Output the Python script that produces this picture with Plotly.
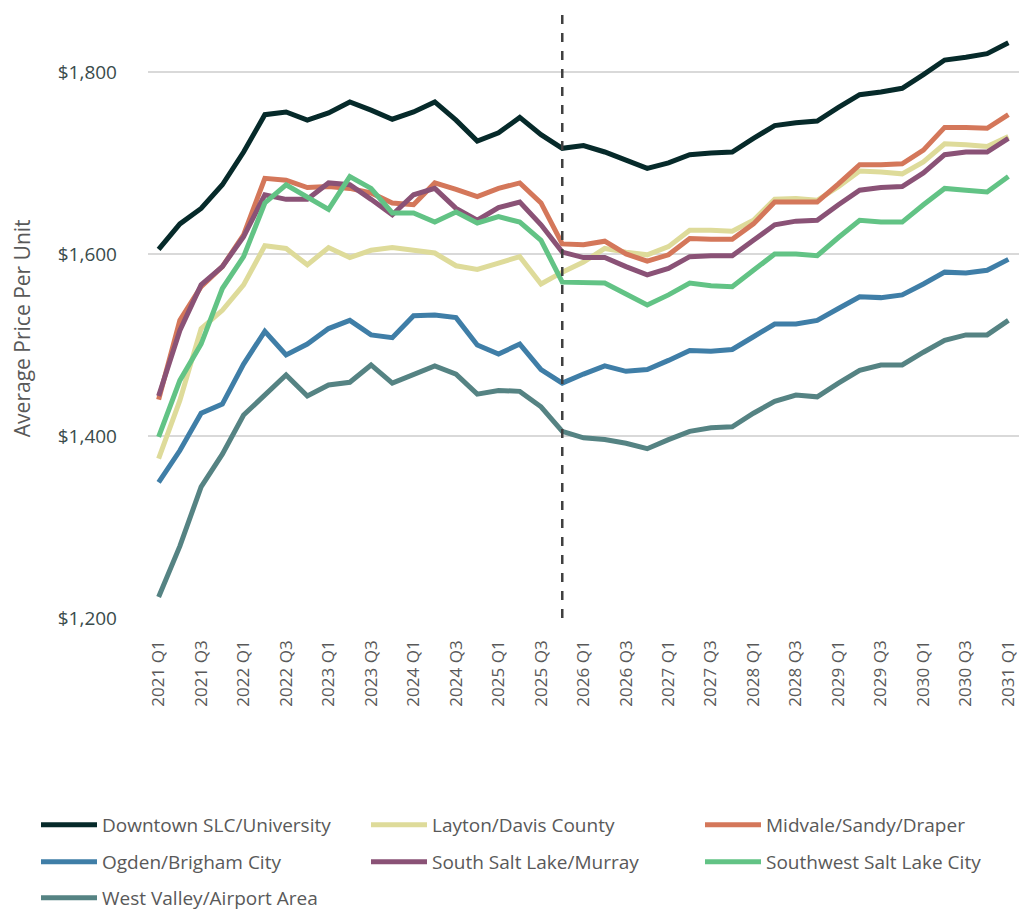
import plotly.graph_objects as go

quarters = [f"{y} Q{q}" for y in range(2021, 2031) for q in range(1, 5)] + ["2031 Q1"]

downtown = [1605, 1633, 1650, 1676, 1712, 1753, 1756, 1747, 1755, 1767, 1758, 1748, 1756, 1767,
            1747, 1724, 1733, 1750, 1731, 1716, 1719, 1712, 1703, 1694, 1700, 1709, 1711, 1712,
            1727, 1741, 1744, 1746, 1761, 1775, 1778, 1782, 1797, 1813, 1816, 1820, 1832]
layton = [1375, 1439, 1518, 1538, 1566, 1609, 1606, 1588, 1607, 1596, 1604, 1607, 1604, 1601,
          1587, 1583, 1590, 1597, 1567, 1580, 1591, 1606, 1602, 1599, 1608, 1626, 1626, 1625,
          1637, 1660, 1661, 1659, 1674, 1691, 1690, 1688, 1701, 1721, 1720, 1718, 1729]
midvale = [1440, 1527, 1564, 1586, 1621, 1683, 1681, 1673, 1674, 1672, 1667, 1656, 1654, 1678,
           1671, 1663, 1672, 1678, 1656, 1611, 1610, 1614, 1600, 1592, 1599, 1617, 1616, 1616,
           1633, 1657, 1657, 1657, 1677, 1698, 1698, 1699, 1714, 1739, 1739, 1738, 1753]
ogden = [1349, 1384, 1425, 1435, 1479, 1515, 1489, 1501, 1518, 1527, 1511, 1508, 1532, 1533,
         1530, 1500, 1490, 1501, 1473, 1458, 1468, 1477, 1471, 1473, 1483, 1494, 1493, 1495,
         1509, 1523, 1523, 1527, 1540, 1553, 1552, 1555, 1567, 1580, 1579, 1582, 1594]
south_slc = [1444, 1516, 1566, 1586, 1619, 1665, 1660, 1660, 1678, 1676, 1660, 1643, 1665, 1672,
             1650, 1637, 1651, 1657, 1632, 1602, 1596, 1596, 1586, 1577, 1584, 1597, 1598, 1598,
             1615, 1632, 1636, 1637, 1654, 1670, 1673, 1674, 1689, 1709, 1712, 1712, 1727]
southwest = [1399, 1461, 1501, 1562, 1597, 1656, 1676, 1663, 1649, 1685, 1672, 1645, 1645, 1635,
             1646, 1634, 1641, 1635, 1615, 1569, 1569, 1568, 1556, 1544, 1555, 1568, 1565, 1564,
             1582, 1600, 1600, 1598, 1618, 1637, 1635, 1635, 1654, 1672, 1670, 1668, 1685]
west_valley = [1223, 1279, 1344, 1380, 1423, 1445, 1467, 1444, 1456, 1459, 1478, 1458, 1468, 1477,
               1468, 1446, 1450, 1449, 1432, 1405, 1398, 1396, 1392, 1386, 1396, 1405, 1409, 1410,
               1425, 1438, 1445, 1443, 1458, 1472, 1478, 1478, 1492, 1505, 1511, 1511, 1527]

series = [
    ("Downtown SLC/University", downtown, "#062a2a"),
    ("Layton/Davis County", layton, "#dedb9a"),
    ("Midvale/Sandy/Draper", midvale, "#d4775a"),
    ("Ogden/Brigham City", ogden, "#3f7ea7"),
    ("South Salt Lake/Murray", south_slc, "#8a5276"),
    ("Southwest Salt Lake City", southwest, "#62c385"),
    ("West Valley/Airport Area", west_valley, "#558383"),
]
forecast_start = "2025 Q4"
tick_labels = quarters[::2]
y_ticks = [1200, 1400, 1600, 1800]

FONT = "Open Sans, DejaVu Sans, sans-serif"
GRAY = "#595959"
W, H = 1029, 911

# legend grid (3 columns, rows of 3) in pixels
col_x = [36, 366, 700]
row_y = [824, 861, 897]

fig = go.Figure()
idx = list(range(len(quarters)))
legends = {}
for k, (name, vals, color) in enumerate(series):
    lid = "legend" if k == 0 else f"legend{k + 1}"
    fig.add_trace(go.Scatter(
        x=idx, y=vals, mode="lines", name=name,
        line=dict(color=color, width=5), legend=lid,
    ))
    r, c = divmod(k, 3)
    legends[lid] = dict(
        orientation="h", xref="container", yref="container",
        xanchor="left", yanchor="top",
        x=col_x[c] / W, y=1 - (row_y[r] - 18) / H,
        itemwidth=56, font=dict(family=FONT, size=19, color=GRAY),
        bgcolor="rgba(0,0,0,0)",
    )

fig.add_shape(type="line", xref="x", yref="paper",
              x0=quarters.index(forecast_start), x1=quarters.index(forecast_start),
              y0=0, y1=1, line=dict(color="#404040", width=2.5, dash="dash"), layer="above")

fig.update_layout(
    width=W, height=H,
    margin=dict(l=148, r=10, t=10, b=293, autoexpand=False),
    paper_bgcolor="white", plot_bgcolor="white",
    font=dict(family=FONT, color=GRAY),
    showlegend=True,
    xaxis=dict(
        range=[-0.5, len(quarters) - 0.5],
        tickmode="array", tickvals=idx[::2], ticktext=tick_labels,
        tickangle=-90, tickfont=dict(family=FONT, size=17, color=GRAY),
        showgrid=False, zeroline=False, showline=False, ticks="",
        ticklabelstandoff=18,
    ),
    yaxis=dict(
        range=[1200, 1868],
        tickmode="array", tickvals=y_ticks,
        ticktext=[f"${v:,}" for v in y_ticks],
        tickfont=dict(family=FONT, size=19, color="#3a4b4b"),
        showgrid=True, gridcolor="#d9d9d9", gridwidth=1.5,
        zeroline=False, showline=False, ticks="",
        ticklabelstandoff=30,
    ),
    annotations=[dict(
        text="Average Price Per Unit", textangle=-90,
        xref="paper", yref="paper", x=(22 - 148) / 871, y=(617.7 - 328) / 607.7,
        xanchor="center", yanchor="middle", showarrow=False,
        font=dict(family=FONT, size=21, color=GRAY),
    )],
)
fig.update_layout(**legends)

fig.write_html("out.html", config={"displayModeBar": False},
               post_script="document.body.style.margin='0';")
